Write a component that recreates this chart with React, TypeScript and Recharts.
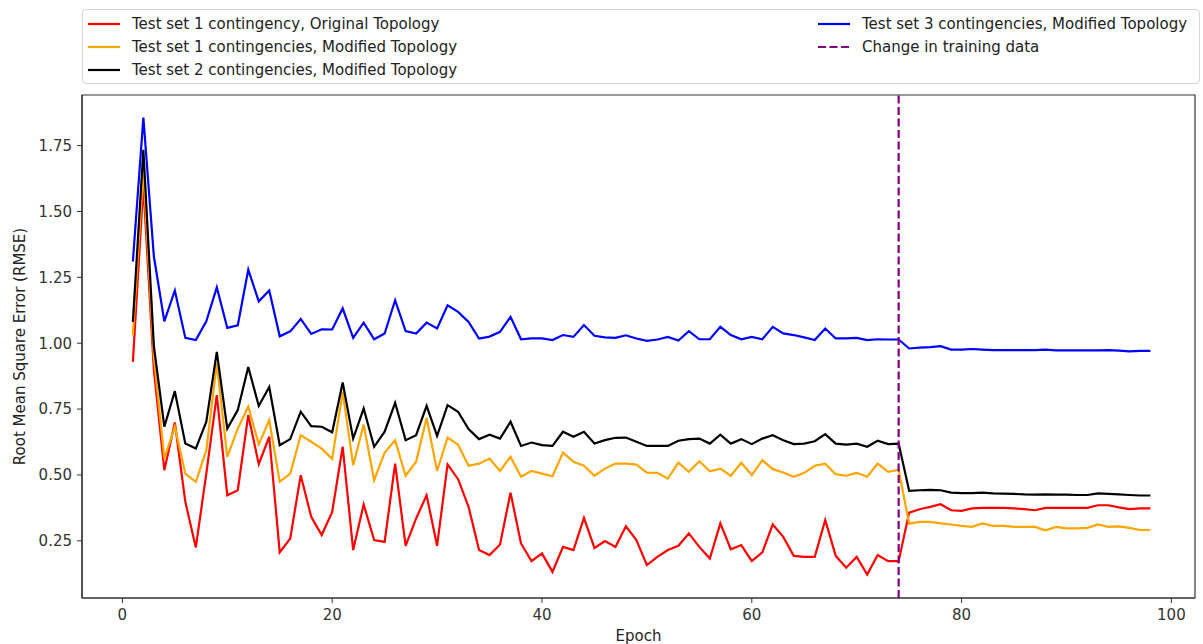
import React from 'react';
import { LineChart, Line, XAxis, YAxis, ReferenceLine, ReferenceArea } from 'recharts';

const epochs = [
  1, 2, 3, 4, 5, 6, 7, 8, 9, 10, 11, 12, 13, 14, 15, 16, 17, 18, 19, 20,
  21, 22, 23, 24, 25, 26, 27, 28, 29, 30, 31, 32, 33, 34, 35, 36, 37, 38, 39, 40,
  41, 42, 43, 44, 45, 46, 47, 48, 49, 50, 51, 52, 53, 54, 55, 56, 57, 58, 59, 60,
  61, 62, 63, 64, 65, 66, 67, 68, 69, 70, 71, 72, 73, 74, 75, 76, 77, 78, 79, 80,
  81, 82, 83, 84, 85, 86, 87, 88, 89, 90, 91, 92, 93, 94, 95, 96, 97, 98,
];

const set1Original = [
  0.929, 1.6, 0.9, 0.518, 0.699, 0.398, 0.225, 0.505, 0.803, 0.423,
  0.442, 0.727, 0.541, 0.645, 0.206, 0.259, 0.499, 0.341, 0.272, 0.36,
  0.607, 0.215, 0.388, 0.253, 0.246, 0.543, 0.231, 0.335, 0.423, 0.231,
  0.54, 0.484, 0.379, 0.215, 0.196, 0.236, 0.433, 0.24, 0.173, 0.202,
  0.132, 0.227, 0.215, 0.337, 0.223, 0.249, 0.227, 0.305, 0.253, 0.158,
  0.189, 0.215, 0.231, 0.278, 0.227, 0.183, 0.316, 0.218, 0.234, 0.173,
  0.206, 0.312, 0.265, 0.193, 0.189, 0.189, 0.329, 0.193, 0.148, 0.189,
  0.122, 0.196, 0.173, 0.173, 0.357, 0.37, 0.379, 0.389, 0.366, 0.364,
  0.373, 0.375, 0.375, 0.375, 0.373, 0.37, 0.366, 0.375, 0.375, 0.375,
  0.375, 0.375, 0.385, 0.385, 0.377, 0.37, 0.373, 0.373,
];

const set1Modified = [
  1.03, 1.66, 0.95, 0.562, 0.683, 0.505, 0.474, 0.594, 0.923, 0.569,
  0.676, 0.759, 0.616, 0.708, 0.474, 0.505, 0.651, 0.626, 0.6, 0.561,
  0.815, 0.537, 0.691, 0.48, 0.585, 0.632, 0.497, 0.55, 0.717, 0.515,
  0.642, 0.615, 0.535, 0.543, 0.562, 0.515, 0.569, 0.493, 0.515, 0.505,
  0.495, 0.585, 0.55, 0.535, 0.497, 0.524, 0.543, 0.543, 0.539, 0.509,
  0.508, 0.486, 0.547, 0.512, 0.552, 0.514, 0.524, 0.497, 0.546, 0.499,
  0.556, 0.522, 0.509, 0.493, 0.508, 0.535, 0.543, 0.503, 0.497, 0.508,
  0.493, 0.543, 0.512, 0.52, 0.315, 0.322, 0.322, 0.316, 0.312, 0.307,
  0.303, 0.316, 0.307, 0.307, 0.303, 0.303, 0.303, 0.29, 0.303, 0.297,
  0.297, 0.299, 0.312, 0.303, 0.305, 0.299, 0.291, 0.291,
];

const set2Modified = [
  1.081, 1.734, 0.99, 0.683, 0.818, 0.619, 0.6, 0.702, 0.967, 0.676,
  0.746, 0.91, 0.762, 0.834, 0.613, 0.636, 0.74, 0.685, 0.683, 0.662,
  0.851, 0.638, 0.752, 0.607, 0.664, 0.774, 0.632, 0.651, 0.762, 0.648,
  0.765, 0.74, 0.674, 0.636, 0.653, 0.638, 0.702, 0.61, 0.623, 0.613,
  0.61, 0.664, 0.645, 0.664, 0.619, 0.632, 0.641, 0.642, 0.626, 0.61,
  0.61, 0.61, 0.63, 0.636, 0.638, 0.619, 0.653, 0.619, 0.636, 0.617,
  0.638, 0.651, 0.632, 0.617, 0.619, 0.628, 0.655, 0.619, 0.615, 0.619,
  0.607, 0.63, 0.617, 0.619, 0.44, 0.442, 0.443, 0.442, 0.433, 0.431,
  0.431, 0.433, 0.43, 0.429, 0.428, 0.426, 0.425, 0.426, 0.425, 0.425,
  0.424, 0.424, 0.43, 0.428, 0.426, 0.424, 0.422, 0.422,
];

const set3Modified = [
  1.31, 1.856, 1.33, 1.083, 1.2, 1.02, 1.012, 1.083, 1.212, 1.058,
  1.068, 1.279, 1.159, 1.2, 1.026, 1.045, 1.092, 1.035, 1.053, 1.052,
  1.132, 1.02, 1.078, 1.015, 1.037, 1.163, 1.046, 1.037, 1.078, 1.056,
  1.144, 1.119, 1.081, 1.018, 1.025, 1.043, 1.1, 1.015, 1.018, 1.018,
  1.012, 1.031, 1.024, 1.069, 1.028, 1.022, 1.02, 1.03, 1.018, 1.009,
  1.014, 1.024, 1.01, 1.046, 1.015, 1.015, 1.062, 1.031, 1.015, 1.024,
  1.015, 1.062, 1.037, 1.031, 1.022, 1.012, 1.056, 1.018, 1.018, 1.02,
  1.012, 1.015, 1.014, 1.014, 0.98, 0.983, 0.985, 0.989, 0.976, 0.976,
  0.978, 0.976, 0.974, 0.974, 0.974, 0.974, 0.974, 0.976, 0.973, 0.973,
  0.973, 0.973, 0.973, 0.974, 0.972, 0.969, 0.971, 0.971,
];

const xTicks = [0, 20, 40, 60, 80, 100];
const yTicks = [0.25, 0.5, 0.75, 1.0, 1.25, 1.5, 1.75];
const changeEpoch = 74;
const xDomain = [-3.85, 102.25];
const yDomain = [0.033, 1.942];

const series = [
  { key: 'set1Original', name: 'Test set 1 contingency, Original Topology', color: '#ff0000' },
  { key: 'set1Modified', name: 'Test set 1 contingencies, Modified Topology', color: '#ffa500' },
  { key: 'set2Modified', name: 'Test set 2 contingencies, Modified Topology', color: '#000000' },
  { key: 'set3Modified', name: 'Test set 3 contingencies, Modified Topology', color: '#0000ff' },
];

const data = epochs.map((epoch, i) => ({
  epoch,
  set1Original: set1Original[i],
  set1Modified: set1Modified[i],
  set2Modified: set2Modified[i],
  set3Modified: set3Modified[i],
}));

const FONT = '"DejaVu Sans", sans-serif';
const AXIS = '#333';
const LW = 2.2;

const Handle = ({ color, dashed }: { color: string; dashed?: boolean }) => (
  <svg width={32} height={10} style={{ display: 'block' }}>
    <line x1={0} y1={5} x2={32} y2={5} stroke={color} strokeWidth={LW}
      strokeDasharray={dashed ? '8 3.5' : undefined} />
  </svg>
);

const LegendEntry = ({ color, name, dashed }: { color: string; name: string; dashed?: boolean }) => (
  <div style={{ display: 'flex', alignItems: 'center', height: 23 }}>
    <Handle color={color} dashed={dashed} />
    <span style={{ marginLeft: 12, whiteSpace: 'nowrap' }}>{name}</span>
  </div>
);

const ChartLegend = () => (
  <div style={{
    position: 'absolute', left: 82, top: 9, width: 1118, height: 75,
    boxSizing: 'border-box', border: '1px solid #d4d4d4', borderRadius: 4,
    background: '#fff', fontFamily: FONT, fontSize: 15, color: '#222',
  }}>
    <div style={{ position: 'absolute', left: 5, top: 2 }}>
      {series.slice(0, 3).map((s) => <LegendEntry key={s.key} color={s.color} name={s.name} />)}
    </div>
    <div style={{ position: 'absolute', left: 735, top: 2 }}>
      <LegendEntry color={series[3].color} name={series[3].name} />
      <LegendEntry color="#800080" name="Change in training data" dashed />
    </div>
  </div>
);

export default function App() {
  const tick = { fontSize: 15, fill: AXIS, fontFamily: FONT };
  return (
    <div style={{ position: 'absolute', left: 0, top: 0, width: 1203, height: 644, background: '#fff' }}>
      <LineChart width={1203} height={644} data={data}
        margin={{ top: 95, right: 8, bottom: 0, left: 0 }}
        style={{ fontFamily: FONT }}>
        <XAxis dataKey="epoch" type="number" domain={xDomain} ticks={xTicks}
          allowDataOverflow height={46} tick={tick} tickSize={5} tickMargin={6}
          axisLine={{ stroke: AXIS, strokeWidth: 1.2 }} tickLine={{ stroke: AXIS }}
          label={{ value: 'Epoch', position: 'insideBottom', offset: 3, fill: '#222', fontSize: 15, fontFamily: FONT }} />
        <YAxis type="number" domain={yDomain} ticks={yTicks} allowDataOverflow width={82}
          tick={tick} tickSize={5} tickMargin={5} tickFormatter={(v: number) => v.toFixed(2)}
          axisLine={{ stroke: AXIS, strokeWidth: 1.2 }} tickLine={{ stroke: AXIS }}
          label={{ value: 'Root Mean Square Error (RMSE)', angle: -90, position: 'insideLeft', offset: 20,
            fill: '#222', fontSize: 15, fontFamily: FONT, style: { textAnchor: 'middle' } }} />
        {/* axes frame (top and right spines) */}
        <ReferenceArea x1={xDomain[0]} x2={xDomain[1]} y1={yDomain[0]} y2={yDomain[1]}
          fill="none" fillOpacity={0} stroke={AXIS} strokeWidth={1.2} strokeOpacity={1} ifOverflow="visible" />
        {series.map((s) => (
          <Line key={s.key} type="linear" dataKey={s.key} name={s.name} stroke={s.color}
            strokeWidth={LW} dot={false} isAnimationActive={false} />
        ))}
        <ReferenceLine x={changeEpoch} stroke="#800080" strokeWidth={LW} strokeDasharray="8 3.5" />
      </LineChart>
      <ChartLegend />
    </div>
  );
}
